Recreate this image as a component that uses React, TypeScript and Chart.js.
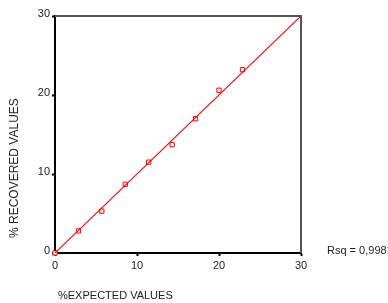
import React, { useEffect, useRef } from "react";
import { Chart, registerables } from "chart.js";

Chart.register(...registerables);

const expectedValues = [0, 2.86, 5.71, 8.57, 11.43, 14.29, 17.14, 20.0, 22.86];
const recoveredValues = [0, 2.8, 5.3, 8.7, 11.5, 13.7, 17.0, 20.6, 23.2];
const fitX = [0, 30];
const fitY = [0, 30];
const tickValues = [0, 10, 20, 30];
const xTitle = "%EXPECTED VALUES";
const yTitle = "% RECOVERED VALUES";
const rsqLabel = "Rsq = 0,9981";

const FONT = "'Liberation Sans', Arial, Helvetica, sans-serif";

export default function App() {
  const ref = useRef<HTMLCanvasElement | null>(null);

  useEffect(() => {
    document.body.style.margin = "0";
    const canvas = ref.current;
    if (!canvas) return;

    const framePlugin = {
      id: "frameAndText",
      afterDraw(chart: any) {
        const { ctx, chartArea } = chart;
        const { left, right, top, bottom } = chartArea;
        ctx.save();
        ctx.strokeStyle = "#555";
        ctx.lineWidth = 2;
        ctx.beginPath();
        ctx.moveTo(left, top);
        ctx.lineTo(right, top);
        ctx.lineTo(right, bottom);
        ctx.stroke();
        ctx.fillStyle = "#222";
        ctx.font = `11px ${FONT}`;
        ctx.textBaseline = "middle";
        ctx.textAlign = "left";
        ctx.fillText(xTitle, left + 3, 296);
        ctx.fillText(rsqLabel, right + 26, bottom - 2);
        ctx.translate(15, bottom - 15);
        ctx.rotate(-Math.PI / 2);
        ctx.textAlign = "left";
        ctx.font = `12px ${FONT}`;
        ctx.fillText(yTitle, 0, 0);
        ctx.restore();
      },
    };

    const chart = new Chart(canvas, {
      type: "scatter",
      data: {
        datasets: [
          {
            type: "line",
            data: fitX.map((x, i) => ({ x, y: fitY[i] })),
            borderColor: "#ff0000",
            borderWidth: 1.1,
            pointRadius: 0,
            fill: false,
          } as any,
          {
            data: expectedValues.map((x, i) => ({ x, y: recoveredValues[i] })),
            pointStyle: "rect",
            pointRadius: 3,
            borderColor: "#ff0000",
            backgroundColor: "#ffffff",
            borderWidth: 1,
            clip: false,
          } as any,
        ],
      },
      options: {
        animation: false,
        responsive: false,
        maintainAspectRatio: false,
        layout: { padding: { left: 0, top: 16, right: 87, bottom: 0 } },
        plugins: { legend: { display: false }, tooltip: { enabled: false } },
        scales: {
          x: {
            type: "linear",
            min: 0,
            max: 30,
            afterBuildTicks: (s: any) => {
              s.ticks = tickValues.map((v) => ({ value: v }));
            },
            afterFit: (s: any) => {
              s.height = 50;
            },
            border: { color: "#000", width: 2 },
            grid: {
              drawOnChartArea: false,
              drawTicks: true,
              tickLength: 3,
              tickWidth: 2,
              color: "#000",
            },
            ticks: {
              color: "#222",
              font: { family: FONT, size: 11 },
              padding: 3,
              maxRotation: 0,
            },
          },
          y: {
            type: "linear",
            min: 0,
            max: 30,
            afterBuildTicks: (s: any) => {
              s.ticks = tickValues.map((v) => ({ value: v }));
            },
            afterFit: (s: any) => {
              s.width = 55;
            },
            border: { color: "#000", width: 2 },
            grid: {
              drawOnChartArea: false,
              drawTicks: true,
              tickLength: 3,
              tickWidth: 2,
              color: "#000",
            },
            ticks: {
              color: "#222",
              font: { family: FONT, size: 11 },
              padding: 2,
              labelOffset: -2,
            },
          },
        },
      },
      plugins: [framePlugin],
    } as any);

    return () => chart.destroy();
  }, []);

  return (
    <div style={{ position: "absolute", left: 0, top: 0, width: 388, height: 303, background: "#fff" }}>
      <canvas ref={ref} width={388} height={303} style={{ width: 388, height: 303, display: "block" }} />
    </div>
  );
}
